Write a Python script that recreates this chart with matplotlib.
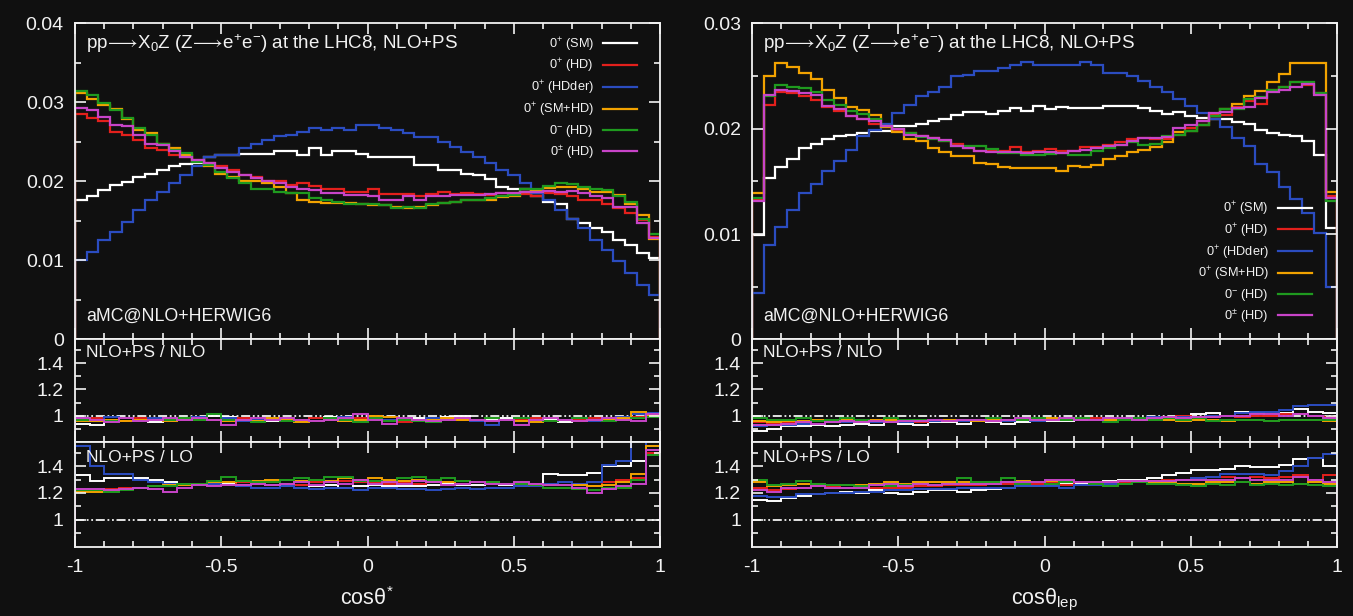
import numpy as np
import matplotlib
matplotlib.use("Agg")
import matplotlib.pyplot as plt
from matplotlib.ticker import MultipleLocator, FixedLocator, FuncFormatter

# ---- cos(theta*) distributions, 50 bins on [-1, 1] ----
edges50 = np.linspace(-1.0, 1.0, 51)
edges40 = np.linspace(-1.0, 1.0, 41)

sm_l = [0.0177, 0.0181, 0.0189, 0.0196, 0.0199, 0.0206, 0.0209, 0.0215, 0.0220, 0.0222,
        0.0223, 0.0231, 0.0233, 0.0233, 0.0235, 0.0235, 0.0235, 0.0238, 0.0238, 0.0234,
        0.0242, 0.0234, 0.0238, 0.0238, 0.0235, 0.0231, 0.0231, 0.0231, 0.0231, 0.0221,
        0.0221, 0.0214, 0.0214, 0.0210, 0.0208, 0.0203, 0.0193, 0.0191, 0.0191, 0.0181,
        0.0174, 0.0172, 0.0153, 0.0147, 0.0141, 0.0136, 0.0126, 0.0119, 0.0109, 0.0103]
hd_l = [0.0286, 0.0280, 0.0276, 0.0263, 0.0259, 0.0252, 0.0242, 0.0240, 0.0233, 0.0231,
        0.0227, 0.0223, 0.0219, 0.0214, 0.0208, 0.0206, 0.0200, 0.0200, 0.0196, 0.0198,
        0.0194, 0.0191, 0.0191, 0.0187, 0.0187, 0.0191, 0.0184, 0.0184, 0.0184, 0.0182,
        0.0184, 0.0187, 0.0184, 0.0185, 0.0184, 0.0183, 0.0185, 0.0185, 0.0184, 0.0181,
        0.0185, 0.0184, 0.0181, 0.0177, 0.0177, 0.0171, 0.0167, 0.0160, 0.0151, 0.0130]
hdder_l = [0.0101, 0.0111, 0.0126, 0.0136, 0.0149, 0.0164, 0.0177, 0.0187, 0.0198, 0.0208,
           0.0219, 0.0231, 0.0233, 0.0233, 0.0242, 0.0248, 0.0252, 0.0258, 0.0259, 0.0263,
           0.0268, 0.0265, 0.0268, 0.0265, 0.0272, 0.0272, 0.0268, 0.0265, 0.0261, 0.0256,
           0.0256, 0.0250, 0.0244, 0.0237, 0.0231, 0.0223, 0.0215, 0.0208, 0.0198, 0.0185,
           0.0177, 0.0164, 0.0152, 0.0141, 0.0126, 0.0113, 0.0099, 0.0084, 0.0069, 0.0056]
smhd_l = [0.0312, 0.0305, 0.0297, 0.0292, 0.0279, 0.0265, 0.0261, 0.0247, 0.0242, 0.0233,
          0.0226, 0.0219, 0.0210, 0.0206, 0.0200, 0.0200, 0.0198, 0.0193, 0.0186, 0.0177,
          0.0174, 0.0173, 0.0173, 0.0173, 0.0171, 0.0170, 0.0170, 0.0168, 0.0167, 0.0168,
          0.0170, 0.0173, 0.0174, 0.0177, 0.0177, 0.0177, 0.0180, 0.0182, 0.0187, 0.0189,
          0.0192, 0.0193, 0.0193, 0.0190, 0.0187, 0.0187, 0.0183, 0.0172, 0.0158, 0.0127]
odd_l = [0.0314, 0.0309, 0.0299, 0.0290, 0.0280, 0.0268, 0.0259, 0.0248, 0.0240, 0.0236,
         0.0225, 0.0221, 0.0212, 0.0204, 0.0198, 0.0191, 0.0191, 0.0187, 0.0185, 0.0185,
         0.0179, 0.0177, 0.0174, 0.0172, 0.0171, 0.0171, 0.0170, 0.0167, 0.0168, 0.0167,
         0.0172, 0.0173, 0.0174, 0.0177, 0.0177, 0.0179, 0.0181, 0.0183, 0.0190, 0.0191,
         0.0194, 0.0198, 0.0197, 0.0193, 0.0191, 0.0189, 0.0181, 0.0174, 0.0153, 0.0134]
mix_l = [0.0293, 0.0291, 0.0282, 0.0271, 0.0270, 0.0259, 0.0248, 0.0246, 0.0238, 0.0231,
         0.0227, 0.0223, 0.0217, 0.0212, 0.0208, 0.0204, 0.0200, 0.0198, 0.0193, 0.0191,
         0.0189, 0.0185, 0.0185, 0.0183, 0.0183, 0.0181, 0.0177, 0.0177, 0.0181, 0.0177,
         0.0181, 0.0181, 0.0183, 0.0183, 0.0183, 0.0184, 0.0185, 0.0186, 0.0187, 0.0187,
         0.0188, 0.0187, 0.0188, 0.0185, 0.0181, 0.0179, 0.0168, 0.0168, 0.0147, 0.0128]

# ---- cos(theta_lep) distributions ----
sm_r = [0.0099, 0.0153, 0.0164, 0.0171, 0.0182, 0.0186, 0.0190, 0.0193, 0.0194, 0.0196,
        0.0198, 0.0198, 0.0203, 0.0203, 0.0205, 0.0207, 0.0209, 0.0213, 0.0216, 0.0216,
        0.0214, 0.0217, 0.0220, 0.0217, 0.0222, 0.0219, 0.0221, 0.0220, 0.0220, 0.0220,
        0.0222, 0.0222, 0.0222, 0.0220, 0.0217, 0.0214, 0.0216, 0.0212, 0.0210, 0.0209,
        0.0209, 0.0206, 0.0205, 0.0199, 0.0196, 0.0194, 0.0193, 0.0188, 0.0175, 0.0106]
hd_r = [0.0133, 0.0223, 0.0235, 0.0234, 0.0231, 0.0227, 0.0221, 0.0217, 0.0212, 0.0209,
        0.0205, 0.0202, 0.0199, 0.0196, 0.0193, 0.0191, 0.0188, 0.0186, 0.0182, 0.0179,
        0.0179, 0.0179, 0.0183, 0.0178, 0.0179, 0.0181, 0.0179, 0.0179, 0.0183, 0.0183,
        0.0185, 0.0187, 0.0190, 0.0191, 0.0190, 0.0190, 0.0194, 0.0201, 0.0207, 0.0213,
        0.0213, 0.0221, 0.0226, 0.0224, 0.0237, 0.0240, 0.0244, 0.0242, 0.0234, 0.0136]
hdder_r = [0.0044, 0.0090, 0.0107, 0.0123, 0.0139, 0.0148, 0.0160, 0.0169, 0.0180, 0.0193,
           0.0199, 0.0205, 0.0215, 0.0223, 0.0231, 0.0235, 0.0240, 0.0250, 0.0251, 0.0255,
           0.0255, 0.0258, 0.0261, 0.0263, 0.0261, 0.0261, 0.0261, 0.0261, 0.0263, 0.0261,
           0.0253, 0.0253, 0.0250, 0.0245, 0.0240, 0.0235, 0.0228, 0.0222, 0.0215, 0.0209,
           0.0202, 0.0191, 0.0184, 0.0167, 0.0159, 0.0145, 0.0133, 0.0120, 0.0101, 0.0050]
smhd_r = [0.0139, 0.0250, 0.0262, 0.0259, 0.0253, 0.0247, 0.0237, 0.0229, 0.0221, 0.0218,
          0.0213, 0.0202, 0.0197, 0.0190, 0.0188, 0.0182, 0.0178, 0.0174, 0.0174, 0.0168,
          0.0167, 0.0164, 0.0163, 0.0163, 0.0163, 0.0163, 0.0160, 0.0165, 0.0164, 0.0166,
          0.0171, 0.0174, 0.0178, 0.0180, 0.0183, 0.0187, 0.0197, 0.0198, 0.0204, 0.0212,
          0.0219, 0.0224, 0.0231, 0.0236, 0.0244, 0.0252, 0.0262, 0.0262, 0.0262, 0.0140]
odd_r = [0.0134, 0.0231, 0.0242, 0.0240, 0.0239, 0.0235, 0.0227, 0.0223, 0.0217, 0.0214,
         0.0209, 0.0203, 0.0200, 0.0196, 0.0192, 0.0190, 0.0188, 0.0184, 0.0184, 0.0184,
         0.0181, 0.0177, 0.0177, 0.0175, 0.0175, 0.0176, 0.0177, 0.0175, 0.0175, 0.0179,
         0.0182, 0.0185, 0.0187, 0.0185, 0.0186, 0.0193, 0.0194, 0.0198, 0.0204, 0.0212,
         0.0219, 0.0219, 0.0228, 0.0230, 0.0237, 0.0240, 0.0244, 0.0244, 0.0234, 0.0131]
mix_r = [0.0131, 0.0232, 0.0237, 0.0236, 0.0234, 0.0232, 0.0222, 0.0219, 0.0212, 0.0209,
         0.0207, 0.0203, 0.0200, 0.0194, 0.0193, 0.0191, 0.0189, 0.0184, 0.0182, 0.0179,
         0.0178, 0.0178, 0.0178, 0.0177, 0.0178, 0.0178, 0.0177, 0.0179, 0.0180, 0.0182,
         0.0184, 0.0185, 0.0188, 0.0191, 0.0191, 0.0192, 0.0201, 0.0204, 0.0207, 0.0215,
         0.0216, 0.0220, 0.0221, 0.0229, 0.0235, 0.0237, 0.0240, 0.0243, 0.0232, 0.0134]

# ---- ratios, 40 bins ----
# NLO+PS / NLO, cos(theta*)
nlo_sm_l = [0.94, 0.93, 0.97, 0.98, 0.97, 0.95, 0.97, 0.98, 0.98, 1.00, 0.99, 0.97, 0.97, 0.96, 0.98, 0.97, 0.98, 0.99, 0.96, 0.97,
            0.98, 0.97, 0.97, 0.98, 0.96, 0.99, 1.00, 0.97, 0.97, 0.98, 0.98, 0.98, 0.97, 0.95, 0.96, 0.97, 0.98, 0.98, 0.98, 0.99]
nlo_hd_l = [0.97, 0.98, 0.97, 0.96, 0.98, 0.97, 0.96, 0.97, 0.98, 0.97, 0.96, 0.98, 0.97, 0.98, 0.97, 0.96, 0.98, 0.97, 0.97, 0.98,
            0.99, 0.97, 0.95, 0.96, 0.97, 0.98, 0.97, 0.97, 0.98, 0.97, 0.97, 0.98, 0.96, 0.97, 0.97, 0.98, 0.97, 0.98, 0.99, 1.01]
nlo_hdder_l = [0.98, 0.97, 0.99, 0.98, 0.97, 0.98, 0.96, 0.98, 0.99, 0.97, 0.98, 0.96, 0.97, 0.98, 0.98, 0.97, 0.96, 0.98, 0.99, 0.97,
               0.98, 0.97, 0.98, 0.97, 0.98, 0.97, 0.98, 0.96, 0.93, 0.97, 0.98, 0.97, 0.98, 0.97, 0.98, 0.96, 0.98, 0.99, 1.01, 1.02]
nlo_smhd_l = [0.96, 0.96, 0.97, 0.96, 0.97, 0.97, 0.96, 0.98, 0.97, 0.97, 0.96, 0.97, 0.96, 0.98, 0.97, 0.95, 0.96, 0.97, 0.96, 0.97,
              1.00, 0.99, 0.97, 0.96, 0.97, 0.98, 0.97, 0.97, 0.98, 0.97, 0.96, 0.95, 0.98, 0.97, 0.96, 0.97, 0.97, 0.98, 1.03, 1.00]
nlo_odd_l = [0.97, 0.97, 0.96, 0.98, 0.96, 0.97, 0.97, 0.98, 0.97, 1.01, 0.97, 0.97, 0.95, 0.97, 0.96, 0.97, 0.96, 0.98, 0.97, 0.95,
             0.98, 0.96, 0.97, 0.96, 0.95, 0.97, 0.98, 0.97, 0.98, 0.97, 0.98, 0.97, 0.96, 0.97, 0.98, 0.97, 0.96, 0.97, 0.98, 0.99]
nlo_mix_l = [0.98, 0.97, 0.95, 0.98, 0.96, 0.97, 0.98, 0.97, 0.98, 0.97, 0.93, 0.97, 0.98, 0.97, 0.98, 0.97, 0.96, 0.97, 0.98, 1.01,
             0.97, 0.94, 0.98, 0.97, 0.96, 0.97, 0.98, 0.97, 0.96, 0.97, 0.93, 0.97, 0.98, 0.97, 0.96, 0.97, 0.98, 0.97, 0.96, 1.01]

# NLO+PS / LO, cos(theta*)
lo_sm_l = [1.33, 1.29, 1.31, 1.31, 1.31, 1.30, 1.28, 1.27, 1.27, 1.26, 1.27, 1.26, 1.27, 1.26, 1.25, 1.26, 1.25, 1.26, 1.24, 1.25,
           1.26, 1.25, 1.25, 1.25, 1.26, 1.27, 1.26, 1.26, 1.27, 1.26, 1.25, 1.26, 1.34, 1.33, 1.33, 1.35, 1.40, 1.40, 1.44, 1.52]
lo_hd_l = [1.22, 1.22, 1.23, 1.24, 1.24, 1.25, 1.26, 1.26, 1.27, 1.27, 1.26, 1.28, 1.27, 1.28, 1.27, 1.26, 1.28, 1.28, 1.29, 1.28,
           1.28, 1.27, 1.28, 1.27, 1.28, 1.28, 1.27, 1.28, 1.27, 1.27, 1.26, 1.27, 1.27, 1.26, 1.26, 1.25, 1.28, 1.30, 1.31, 1.50]
lo_hdder_l = [1.55, 1.40, 1.34, 1.34, 1.30, 1.28, 1.27, 1.26, 1.26, 1.27, 1.26, 1.25, 1.24, 1.24, 1.25, 1.24, 1.23, 1.24, 1.24, 1.22,
              1.24, 1.24, 1.23, 1.23, 1.22, 1.23, 1.24, 1.23, 1.24, 1.24, 1.25, 1.25, 1.27, 1.28, 1.27, 1.28, 1.41, 1.44, 1.70, 1.55]
lo_smhd_l = [1.21, 1.21, 1.22, 1.23, 1.24, 1.25, 1.26, 1.26, 1.27, 1.28, 1.28, 1.29, 1.29, 1.30, 1.30, 1.29, 1.30, 1.29, 1.31, 1.30,
             1.31, 1.30, 1.29, 1.30, 1.29, 1.28, 1.29, 1.28, 1.28, 1.27, 1.27, 1.26, 1.26, 1.26, 1.26, 1.25, 1.26, 1.28, 1.34, 1.55]
lo_odd_l = [1.22, 1.22, 1.21, 1.22, 1.24, 1.25, 1.25, 1.27, 1.27, 1.29, 1.32, 1.29, 1.28, 1.28, 1.30, 1.31, 1.30, 1.32, 1.32, 1.29,
            1.29, 1.28, 1.31, 1.32, 1.30, 1.31, 1.29, 1.28, 1.28, 1.27, 1.27, 1.26, 1.24, 1.24, 1.23, 1.22, 1.24, 1.24, 1.30, 1.48]
lo_mix_l = [1.23, 1.23, 1.22, 1.23, 1.24, 1.23, 1.21, 1.24, 1.26, 1.25, 1.26, 1.26, 1.27, 1.26, 1.27, 1.28, 1.26, 1.28, 1.27, 1.30,
            1.27, 1.28, 1.27, 1.29, 1.28, 1.26, 1.27, 1.28, 1.27, 1.27, 1.28, 1.27, 1.26, 1.26, 1.24, 1.20, 1.23, 1.25, 1.27, 1.52]

# NLO+PS / NLO, cos(theta_lep)
nlo_sm_r = [0.88, 0.90, 0.92, 0.92, 0.93, 0.92, 0.93, 0.94, 0.93, 0.95, 0.94, 0.93, 0.95, 0.95, 0.94, 0.96, 0.95, 0.94, 0.95, 0.96,
            0.96, 0.96, 0.97, 0.97, 0.97, 0.98, 0.98, 0.99, 0.99, 1.00, 1.01, 1.02, 1.00, 1.03, 1.02, 1.00, 1.02, 1.05, 1.03, 1.02]
nlo_hd_r = [0.95, 0.94, 0.95, 0.95, 0.96, 0.96, 0.95, 0.96, 0.96, 0.97, 0.96, 0.95, 0.96, 0.96, 0.97, 0.96, 0.96, 0.97, 0.97, 0.97,
            0.97, 0.97, 0.98, 0.98, 0.97, 0.97, 0.98, 0.98, 0.98, 1.00, 0.99, 0.99, 1.00, 0.99, 1.00, 1.00, 1.01, 1.01, 1.00, 0.99]
nlo_hdder_r = [0.92, 0.93, 0.93, 0.94, 0.94, 0.95, 0.95, 0.96, 0.95, 0.96, 0.95, 0.96, 0.96, 0.97, 0.96, 0.96, 0.97, 0.96, 0.97, 0.96,
               0.97, 0.97, 0.98, 0.97, 0.98, 0.98, 0.98, 0.99, 0.98, 0.99, 0.99, 1.00, 1.00, 1.02, 1.03, 1.03, 1.04, 1.07, 1.08, 1.08]
nlo_smhd_r = [0.96, 0.95, 0.96, 0.96, 0.97, 0.97, 0.97, 0.96, 0.97, 0.97, 0.96, 0.97, 0.97, 0.97, 0.97, 0.96, 0.97, 0.97, 0.97, 0.97,
              0.98, 0.97, 0.98, 0.97, 0.97, 0.97, 0.97, 0.97, 0.97, 0.96, 0.97, 0.97, 0.96, 0.97, 0.97, 0.96, 0.97, 0.97, 0.97, 0.96]
nlo_odd_r = [0.98, 0.97, 0.97, 0.98, 0.96, 0.97, 0.98, 0.97, 0.96, 0.98, 0.97, 0.97, 0.97, 0.96, 0.97, 0.97, 0.98, 0.97, 0.97, 0.98,
             0.97, 0.97, 0.98, 0.97, 0.95, 0.97, 0.98, 0.97, 0.98, 0.97, 0.98, 0.96, 0.97, 0.97, 0.97, 0.96, 0.97, 0.97, 0.97, 0.97]
nlo_mix_r = [0.93, 0.93, 0.94, 0.95, 0.94, 0.95, 0.96, 0.95, 0.96, 0.95, 0.96, 0.96, 0.97, 0.96, 0.97, 0.97, 0.96, 0.97, 0.98, 0.97,
             0.97, 0.98, 0.97, 0.97, 0.98, 0.98, 0.97, 0.98, 0.99, 0.98, 0.99, 0.99, 1.00, 1.00, 1.01, 1.01, 1.00, 1.01, 1.00, 0.98]

# NLO+PS / LO, cos(theta_lep)
lo_sm_r = [1.15, 1.14, 1.16, 1.18, 1.19, 1.20, 1.21, 1.20, 1.22, 1.20, 1.19, 1.21, 1.22, 1.22, 1.21, 1.22, 1.23, 1.24, 1.25, 1.25,
           1.26, 1.27, 1.27, 1.28, 1.29, 1.30, 1.30, 1.31, 1.33, 1.35, 1.37, 1.37, 1.38, 1.40, 1.39, 1.39, 1.41, 1.45, 1.46, 1.40]
lo_hd_r = [1.24, 1.22, 1.23, 1.24, 1.25, 1.25, 1.24, 1.25, 1.24, 1.24, 1.24, 1.25, 1.25, 1.26, 1.26, 1.26, 1.27, 1.27, 1.27, 1.27,
           1.28, 1.26, 1.28, 1.28, 1.27, 1.28, 1.29, 1.29, 1.30, 1.30, 1.31, 1.32, 1.32, 1.31, 1.32, 1.31, 1.32, 1.33, 1.30, 1.33]
lo_hdder_r = [1.18, 1.17, 1.17, 1.19, 1.19, 1.20, 1.20, 1.21, 1.21, 1.22, 1.22, 1.23, 1.23, 1.23, 1.24, 1.24, 1.24, 1.24, 1.25, 1.25,
              1.25, 1.24, 1.26, 1.26, 1.27, 1.27, 1.28, 1.28, 1.28, 1.30, 1.31, 1.32, 1.34, 1.34, 1.34, 1.33, 1.36, 1.40, 1.46, 1.49]
lo_smhd_r = [1.28, 1.25, 1.26, 1.27, 1.27, 1.26, 1.26, 1.26, 1.27, 1.28, 1.27, 1.28, 1.28, 1.28, 1.28, 1.28, 1.28, 1.28, 1.29, 1.28,
             1.29, 1.28, 1.28, 1.28, 1.28, 1.29, 1.28, 1.28, 1.28, 1.27, 1.27, 1.28, 1.28, 1.28, 1.27, 1.28, 1.28, 1.27, 1.28, 1.27]
lo_odd_r = [1.30, 1.26, 1.27, 1.29, 1.27, 1.26, 1.26, 1.25, 1.26, 1.25, 1.26, 1.27, 1.26, 1.27, 1.31, 1.28, 1.28, 1.31, 1.27, 1.28,
            1.27, 1.28, 1.28, 1.27, 1.25, 1.27, 1.28, 1.27, 1.27, 1.26, 1.25, 1.27, 1.26, 1.28, 1.26, 1.27, 1.26, 1.27, 1.26, 1.25]
lo_mix_r = [1.22, 1.21, 1.24, 1.24, 1.25, 1.24, 1.24, 1.24, 1.26, 1.27, 1.25, 1.27, 1.26, 1.27, 1.27, 1.27, 1.27, 1.28, 1.28, 1.28,
            1.30, 1.30, 1.28, 1.28, 1.28, 1.29, 1.29, 1.29, 1.29, 1.30, 1.30, 1.30, 1.30, 1.31, 1.30, 1.30, 1.30, 1.32, 1.30, 1.28]

labels = ['0$^{+}$ (SM)', '0$^{+}$ (HD)', '0$^{+}$ (HDder)', '0$^{+}$ (SM+HD)', '0$^{-}$ (HD)', '0$^{\\pm}$ (HD)']
colors = ['#ffffff', '#e3201c', '#2b4cc0', '#f2a200', '#1f9a1f', '#c844c8']

bg = '#101010'
fg = '#f2f2f2'
plt.rcParams['font.family'] = ['Liberation Sans', 'DejaVu Sans']
plt.rcParams['mathtext.fontset'] = 'custom'
plt.rcParams['mathtext.rm'] = 'Liberation Sans'
plt.rcParams['mathtext.it'] = 'Liberation Sans'
plt.rcParams['mathtext.fallback'] = 'stixsans'

fig = plt.figure(figsize=(13.53, 6.16), dpi=100, facecolor=bg)


def style(ax, ylo, yhi):
    ax.set_facecolor(bg)
    ax.set_xlim(-1, 1)
    ax.set_ylim(ylo, yhi)
    for s in ax.spines.values():
        s.set_color(fg)
        s.set_linewidth(1.3)
    ax.xaxis.set_major_locator(MultipleLocator(0.5))
    ax.xaxis.set_minor_locator(MultipleLocator(0.1))
    ax.tick_params(which='both', direction='in', top=True, right=True, colors=fg,
                   labelsize=14, width=1.2)
    ax.tick_params(which='major', length=8)
    ax.tick_params(which='minor', length=4)
    ax.tick_params(axis='y', pad=8)
    ax.tick_params(axis='x', pad=9)


def ratio_axis(ax, label, ylab, show_x):
    style(ax, 0.8, 1.58)
    ax.yaxis.set_major_locator(FixedLocator([1.0, 1.2, 1.4]))
    ax.yaxis.set_minor_locator(FixedLocator([0.9, 1.1, 1.3, 1.5]))
    ax.yaxis.set_major_formatter(FuncFormatter(lambda v, p: '%g' % v))
    ax.axhline(1.0, color=fg, lw=1.3, ls=(0, (5, 1.5, 1, 1.5, 1, 1.5)), zorder=1)
    ax.text(0.019, ylab, label, transform=ax.transAxes, color=fg, fontsize=12.5,
            va='center', ha='left')
    if not show_x:
        ax.tick_params(labelbottom=False)
    else:
        ax.xaxis.set_major_formatter(FuncFormatter(lambda v, p: '%g' % v))


panels = [
    dict(x0=0.0554, ymax=0.04, yticks=[0, 0.01, 0.02, 0.03, 0.04],
         main=[sm_l, hd_l, hdder_l, smhd_l, odd_l, mix_l],
         nlo=[nlo_sm_l, nlo_hd_l, nlo_hdder_l, nlo_smhd_l, nlo_odd_l, nlo_mix_l],
         lo=[lo_sm_l, lo_hd_l, lo_hdder_l, lo_smhd_l, lo_odd_l, lo_mix_l],
         xlabel='cos$\\theta^{*}$', leg=dict(loc='upper right', bbox_to_anchor=(0.961, 0.962))),
    dict(x0=0.5558, ymax=0.03, yticks=[0, 0.01, 0.02, 0.03],
         main=[sm_r, hd_r, hdder_r, smhd_r, odd_r, mix_r],
         nlo=[nlo_sm_r, nlo_hd_r, nlo_hdder_r, nlo_smhd_r, nlo_odd_r, nlo_mix_r],
         lo=[lo_sm_r, lo_hd_r, lo_hdder_r, lo_smhd_r, lo_odd_r, lo_mix_r],
         xlabel='cos$\\theta_{lep}$', leg=dict(loc='lower right', bbox_to_anchor=(0.957, 0.047))),
]

title = ('pp$\\!\\longrightarrow\\!$X$_0$Z (Z$\\!\\longrightarrow\\!$e$^{+}$e$^{-}$) '
         'at the LHC8, NLO+PS')

W = 0.4326
for p in panels:
    ax = fig.add_axes([p['x0'], 0.4489, W, 0.513])
    r1 = fig.add_axes([p['x0'], 0.2825, W, 0.1664])
    r2 = fig.add_axes([p['x0'], 0.1128, W, 0.1697])

    style(ax, 0, p['ymax'])
    ax.yaxis.set_major_locator(FixedLocator(p['yticks']))
    ax.yaxis.set_minor_locator(MultipleLocator(0.005))
    ax.yaxis.set_major_formatter(FuncFormatter(lambda v, q: '%g' % v))
    ax.tick_params(labelbottom=False)

    for vals, c, lab in zip(p['main'], colors, labels):
        ax.stairs(vals, edges50, color=c, lw=1.6, label=lab)
    leg = ax.legend(frameon=False, markerfirst=False, fontsize=9.2, handlelength=2.7,
                    handletextpad=0.7, labelspacing=0.3, borderpad=0, borderaxespad=0,
                    **p['leg'])
    for t in leg.get_texts():
        t.set_color(fg)
        t.set_ha('right')

    ax.text(0.019, 0.937, title, transform=ax.transAxes, color=fg, fontsize=13.5,
            va='center', ha='left')
    ax.text(0.019, 0.072, 'aMC@NLO+HERWIG6', transform=ax.transAxes, color=fg,
            fontsize=12.8, va='center', ha='left')

    ratio_axis(r1, 'NLO+PS / NLO', 0.875, False)
    for vals, c in zip(p['nlo'], colors):
        r1.stairs(vals, edges40, color=c, lw=1.4)
    ratio_axis(r2, 'NLO+PS / LO', 0.855, True)
    for vals, c in zip(p['lo'], colors):
        r2.stairs(vals, edges40, color=c, lw=1.4)
    r2.set_xlabel(p['xlabel'], color=fg, fontsize=15.5, labelpad=8)

fig.savefig('out.png', dpi=100, facecolor=bg)
